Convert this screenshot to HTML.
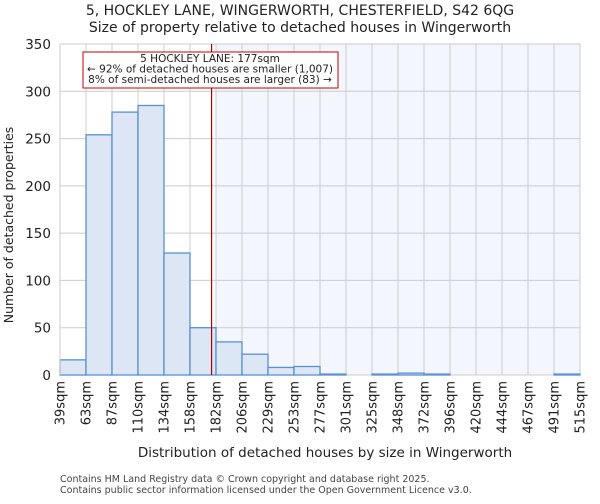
<!DOCTYPE html>
<html><head><meta charset="utf-8"><style>
body{margin:0;background:#fff;font-family:"DejaVu Sans","Liberation Sans",sans-serif}
</style></head><body>
<svg width="600" height="500" xmlns="http://www.w3.org/2000/svg" font-family="DejaVu Sans, Liberation Sans, sans-serif">
<g id="root"></g>
</svg>
<script>
const edgeLabels=["39sqm","63sqm","87sqm","110sqm","134sqm","158sqm","182sqm","206sqm","229sqm","253sqm","277sqm","301sqm","325sqm","348sqm","372sqm","396sqm","420sqm","444sqm","467sqm","491sqm","515sqm"];
const counts=[16,254,278,285,129,50,35,22,8,9,1,0,1,2,1,0,0,0,0,1];
const yTicks=[0,50,100,150,200,250,300,350];
const subjectValue=177;
const edgeValues=[39,63,87,110,134,158,182,206,229,253,277,301,325,348,372,396,420,444,467,491,515];
const X0=60,X1=580,Y0=375,Y1=44,YMAX=350;
const n=counts.length,bw=(X1-X0)/n;
const xi=i=>X0+i*bw;
const y=v=>Y0-(v/YMAX)*(Y0-Y1);
function xv(v){for(let i=0;i<edgeValues.length-1;i++){if(v<=edgeValues[i+1]){return xi(i)+(v-edgeValues[i])/(edgeValues[i+1]-edgeValues[i])*bw;}}return X1;}
const NS="http://www.w3.org/2000/svg",root=document.getElementById('root');
function el(t,a,txt){const e=document.createElementNS(NS,t);for(const k in a)e.setAttribute(k,a[k]);if(txt!==undefined)e.textContent=txt;root.appendChild(e);return e;}
let e;
const sx=xv(subjectValue);
const shadeStart=xi(edgeValues.findIndex(v=>v>subjectValue));
e=el('rect',{x:shadeStart,y:Y1,width:X1-shadeStart,height:Y0-Y1,fill:'#f3f6fd'});


for(const t of yTicks){e=el('line',{x1:X0,x2:X1,y1:y(t),y2:y(t),stroke:'#cccccc','stroke-width':1});

}
for(let i=0;i<=n;i++){e=el('line',{x1:xi(i),x2:xi(i),y1:Y1,y2:Y0,stroke:'#cccccc','stroke-width':1});

}
counts.forEach((c,i)=>{const xx=xi(i);
e=el('rect',{x:xx,y:y(c),width:bw,height:Y0-y(c),fill:'#dce6f4',stroke:'#5b8fd6','stroke-width':1.3});

});
e=el('line',{x1:X0,x2:X0,y1:Y1,y2:Y0,stroke:'#cccccc'});


e=el('line',{x1:sx+1,x2:sx+1,y1:Y1,y2:Y0,stroke:'#b00000','stroke-width':1.2});


for(const t of yTicks){e=el('text',{x:X0-9,y:y(t)+5,'text-anchor':'end','font-size':13.5,fill:'#222'},String(t));

}
edgeLabels.forEach((l,i)=>{const xx=xi(i);e=el('text',{x:0,y:0,'text-anchor':'end','font-size':13,fill:'#222',transform:`translate(${xx+4.5},381) rotate(-90)`},l);

});
e=el('text',{x:300,y:15,'text-anchor':'middle','font-size':14,fill:'#222'},'5, HOCKLEY LANE, WINGERWORTH, CHESTERFIELD, S42 6QG');


e=el('text',{x:300,y:32,'text-anchor':'middle','font-size':14,fill:'#222'},'Size of property relative to detached houses in Wingerworth');


e=el('text',{x:325,y:457,'text-anchor':'middle','font-size':13.5,fill:'#222'},'Distribution of detached houses by size in Wingerworth');


e=el('text',{x:0,y:0,'text-anchor':'middle','font-size':12.5,fill:'#222',transform:'translate(13,225) rotate(-90)'},'Number of detached properties');


e=el('rect',{x:83,y:52,width:255,height:36,fill:'#fff',stroke:'#c00000','stroke-width':1});


const ann=['5 HOCKLEY LANE: 177sqm','← 92% of detached houses are smaller (1,007)','8% of semi-detached houses are larger (83) →'];
ann.forEach((t,i)=>{e=el('text',{x:210,y:62+i*10.5,'text-anchor':'middle','font-size':10.5,fill:'#222'},t);

});
e=el('text',{x:60,y:482,'font-size':9.5,fill:'#444'},'Contains HM Land Registry data © Crown copyright and database right 2025.');


e=el('text',{x:60,y:493,'font-size':9.5,fill:'#444'},'Contains public sector information licensed under the Open Government Licence v3.0.');


</script>
</body></html>
